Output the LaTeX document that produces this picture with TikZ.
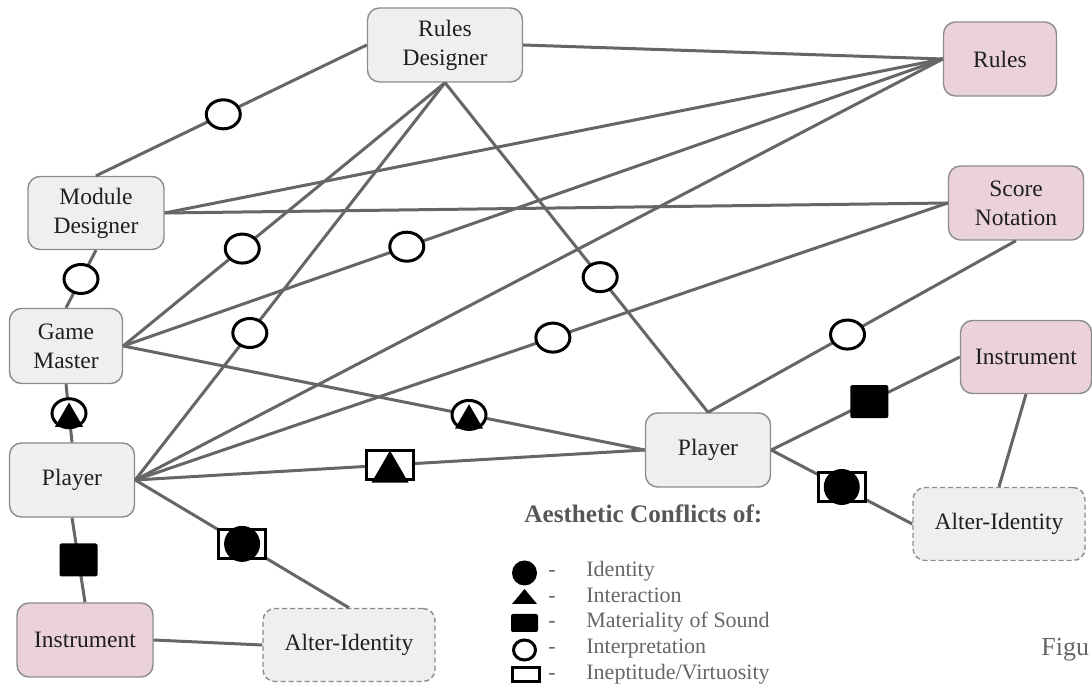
\documentclass[tikz,border=0pt]{standalone}
\usepackage{fontspec}
\setmainfont{Liberation Serif}
\usetikzlibrary{shapes.geometric}
\definecolor{boxgray}{HTML}{EFEFEF}
\definecolor{boxpink}{HTML}{EAD1DC}
\definecolor{rimgray}{HTML}{8C8C8C}
\definecolor{linkgray}{HTML}{666666}
\definecolor{keygray}{HTML}{666666}

\tikzset{
 role/.style={draw=rimgray, line width=0.7pt, fill=boxgray, rounded corners=6pt, align=center,
   text=black!88, font=\fontsize{11.75}{14.5}\selectfont, minimum height=37pt, inner sep=0pt},
 thing/.style={role, fill=boxpink},
 alter/.style={role, dash pattern=on 2.5pt off 1.5pt, minimum width=86pt, minimum height=36.5pt},
 link/.style={draw=linkgray, line width=1.5pt},
 interp/.style={ellipse, draw=black, line width=1.5pt, fill=white, inner sep=0pt, minimum width=17pt, minimum height=14.5pt},
 sound/.style={rectangle, fill=black, rounded corners=1pt, minimum width=19pt, minimum height=16.5pt, inner sep=0pt},
 ident/.style={circle, fill=black, minimum size=18pt, inner sep=0pt},
 virt/.style={rectangle, draw=black, line width=1.5pt, fill=white, minimum width=23.5pt, minimum height=14.5pt, inner sep=0pt},
 inter/.style={regular polygon, regular polygon sides=3, fill=black, inner sep=0pt, minimum size=#1},
 inter/.default=21.4pt,
 keytext/.style={anchor=west, inner sep=0pt, text=keygray, font=\fontsize{11}{13}\selectfont,
   text height=1.45ex, text depth=.3ex}
}

\begin{document}
\begin{tikzpicture}[x=0.5pt,y=-0.5pt]
 \useasboundingbox (0,0) rectangle (1092,688);
 % people
 \node[role, minimum width=77.5pt] (rd) at (445,45) {Rules\\Designer};
 \node[role, minimum width=68pt, minimum height=36.5pt] (md) at (96,213) {Module\\Designer};
 \node[role, minimum width=56.5pt, minimum height=37.5pt] (gm) at (66,346) {Game\\Master};
 \node[role, minimum width=62.5pt] (pl) at (72,480) {Player};
 \node[role, minimum width=62.5pt] (pr) at (708,450) {Player};
 \node[alter] (al) at (349,645) {Alter-Identity};
 \node[alter] (ar) at (999,524) {Alter-Identity};
 % artefacts
 \node[thing, minimum width=56.5pt] (rules) at (1000,59) {Rules};
 \node[thing, minimum width=67.5pt] (sn) at (1016,203) {Score\\Notation};
 \node[thing, minimum width=65.5pt, minimum height=36.5pt] (ir) at (1026,357) {Instrument};
 \node[thing, minimum width=68pt] (il) at (85,640) {Instrument};

 % links from the rules designer
 \draw[link] (rd.west) -- node[interp, pos=.53] (c1) {} (md.north);
 \draw[link] (rd.east) -- (rules.west);
 \draw[link] (rd.south) -- node[interp, pos=.63] (c2) {} (gm.east);
 \draw[link] (rd.south) -- node[interp, pos=.63] (c3) {} (pl.east);
 \draw[link] (rd.south) -- node[interp, pos=.59] (c4) {} (pr.north);
 % links from the rules and the score
 \draw[link] (rules.west) -- (md.east);
 \draw[link] (rules.west) -- node[interp, pos=.654] (c5) {} (gm.east);
 \draw[link] (rules.west) -- (pl.east);
 \draw[link] (sn.west) -- (md.east);
 \draw[link] (sn.west) -- node[interp, pos=.486] (c6) {} (pl.east);
 \draw[link] (sn.south) -- node[interp, pos=.547] (c7) {} (pr.north);
 % links between people
 \draw[link] (md.south) -- node[interp, pos=.5] (c8) {} (gm.north);
 \draw[link] (gm.south) -- node[interp, pos=.5] (c9) {} node[inter=16.2pt, pos=.5, yshift=-2.75pt] (t9) {} (pl.north);
 \draw[link] (gm.east) -- node[interp, pos=.663] (c10) {} node[inter=16.2pt, pos=.663, yshift=-2.75pt] (t10) {} (pr.west);
 \draw[link] (pl.east) -- node[virt, pos=.5] (v11) {} node[inter, pos=.5, yshift=-3.5pt] (t11) {} (pr.west);
 % links to instruments and alter-identities
 \draw[link] (pl.east) -- node[virt, pos=.5] (v12) {} node[ident, pos=.5] (d12) {} (al.north);
 \draw[link] (pl.south) -- node[sound, pos=.5] (s13) {} (il.north);
 \draw[link] (il.east) -- (al.west);
 \draw[link] (pr.east) -- node[sound, pos=.52] (s14) {} (ir.west);
 \draw[link] (pr.east) -- node[virt, pos=.5] (v15) {} node[ident, pos=.5] (d15) {} (ar.west);
 \draw[link] (ir.south) -- (ar.north);

 % legend
 \node[keytext, text=keygray!85!black, font=\bfseries\fontsize{12.6}{15}\selectfont] (title) at (524,517) {Aesthetic Conflicts of:};
 \node[ident, minimum size=12.5pt] (k1) at (524.5,573) {};
 \fill (512,604) -- (537,604) -- (524.5,589) -- cycle; % triangle
 \node[sound, minimum width=13.5pt, minimum height=9pt] (k3) at (524.5,623) {};
 \node[interp, minimum width=11pt, minimum height=10pt] (k4) at (524.5,650) {};
 \node[virt, minimum width=13.5pt, minimum height=7pt] (k5) at (526,675) {};
 \foreach \y/\txt [count=\i] in {571/Identity, 597/Interaction, 622/Materiality of Sound, 648/Interpretation, 674/{Ineptitude/Virtuosity}}{
  \node[keytext] (dash\i) at (548,\y) {-};
  \node[keytext] (key\i) at (586,\y) {\txt};
 }
 \node[keytext, font=\fontsize{13}{15}\selectfont] (fig) at (1041,650) {Figu};
\end{tikzpicture}
\end{document}
